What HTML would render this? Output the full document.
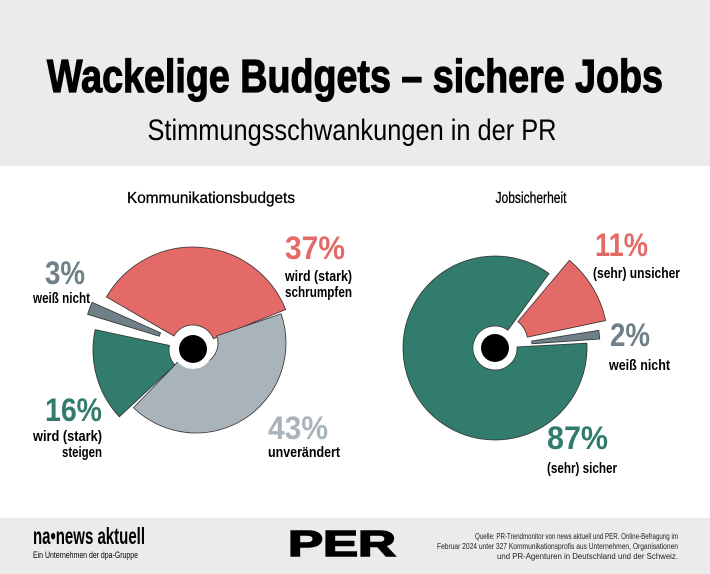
<!DOCTYPE html>
<html><head><meta charset="utf-8"><style>
html,body{margin:0;padding:0;background:#fff}
svg{display:block}
text{font-family:"Liberation Sans Narrow","Liberation Sans",sans-serif}
</style></head><body>
<svg id="s" width="710" height="574" viewBox="0 0 710 574" xmlns="http://www.w3.org/2000/svg">
<rect x="0" y="0" width="710" height="166" fill="#ebebeb"/>
<rect x="0" y="518" width="710" height="56" fill="#ebebeb"/>
<text x="355" y="92" text-anchor="middle" font-size="46" font-weight="bold" stroke="#000" stroke-width="1.2" textLength="616" lengthAdjust="spacingAndGlyphs" fill="#000">Wackelige Budgets – sichere Jobs</text>
<text x="352" y="140" text-anchor="middle" font-size="30" textLength="409" lengthAdjust="spacingAndGlyphs" fill="#000">Stimmungsschwankungen in der PR</text>
<text x="211" y="203" text-anchor="middle" font-size="16" stroke="#000" stroke-width="0.3" textLength="168" lengthAdjust="spacingAndGlyphs">Kommunikationsbudgets</text>
<text x="531" y="203" text-anchor="middle" font-size="16" stroke="#000" stroke-width="0.3" textLength="71" lengthAdjust="spacingAndGlyphs">Jobsicherheit</text>
<g id="pies" stroke="#333" stroke-width="0.8"></g>
<circle cx="193" cy="349" r="20" fill="#fff"/>
<circle cx="193" cy="349" r="14" fill="#000"/>
<circle cx="495" cy="348" r="20" fill="#fff"/>
<circle cx="495" cy="348" r="14" fill="#000"/>
<g font-weight="bold">
<text x="285" y="259" font-size="32" fill="#e36a67" textLength="60" lengthAdjust="spacingAndGlyphs">37%</text>
<text x="285" y="281" font-size="15" textLength="67" lengthAdjust="spacingAndGlyphs">wird (stark)</text>
<text x="285" y="297" font-size="15" textLength="67" lengthAdjust="spacingAndGlyphs">schrumpfen</text>
<text x="45" y="284" font-size="32" fill="#6f8088" textLength="40" lengthAdjust="spacingAndGlyphs">3%</text>
<text x="33" y="303" font-size="15" textLength="57" lengthAdjust="spacingAndGlyphs">weiß nicht</text>
<text x="45" y="421" font-size="32" fill="#317c6c" textLength="57" lengthAdjust="spacingAndGlyphs">16%</text>
<text x="33" y="441" font-size="15" textLength="69" lengthAdjust="spacingAndGlyphs">wird (stark)</text>
<text x="62" y="457" font-size="15" textLength="40" lengthAdjust="spacingAndGlyphs">steigen</text>
<text x="268" y="439" font-size="32" fill="#a8b4b9" textLength="60" lengthAdjust="spacingAndGlyphs">43%</text>
<text x="268" y="457" font-size="15" textLength="72" lengthAdjust="spacingAndGlyphs">unverändert</text>
<text x="595" y="256" font-size="32" fill="#e36a67" textLength="53" lengthAdjust="spacingAndGlyphs">11%</text>
<text x="593" y="278" font-size="15" textLength="87" lengthAdjust="spacingAndGlyphs">(sehr) unsicher</text>
<text x="610" y="346" font-size="32" fill="#6f8088" textLength="40" lengthAdjust="spacingAndGlyphs">2%</text>
<text x="609" y="370" font-size="15" textLength="61" lengthAdjust="spacingAndGlyphs">weiß nicht</text>
<text x="547" y="449" font-size="32" fill="#317c6c" textLength="61" lengthAdjust="spacingAndGlyphs">87%</text>
<text x="547" y="473" font-size="15" textLength="70" lengthAdjust="spacingAndGlyphs">(sehr) sicher</text>
</g>
<text x="33" y="544" font-size="23" font-weight="bold" textLength="112" lengthAdjust="spacingAndGlyphs">na•news aktuell</text>
<text x="33" y="558" font-size="9" textLength="105" lengthAdjust="spacingAndGlyphs">Ein Unternehmen der dpa-Gruppe</text>
<text x="342" y="556" text-anchor="middle" font-size="36" font-weight="bold" stroke="#000" stroke-width="1.5" textLength="108" lengthAdjust="spacingAndGlyphs" font-family="Liberation Sans">PER</text>
<g font-size="8" fill="#222">
<text x="475" y="539" textLength="203" lengthAdjust="spacingAndGlyphs">Quelle: PR-Trendmonitor von news aktuell und PER. Online-Befragung im</text>
<text x="437" y="549" textLength="241" lengthAdjust="spacingAndGlyphs">Februar 2024 unter 327 Kommunikationsprofis aus Unternehmen, Organisationen</text>
<text x="497" y="559" textLength="181" lengthAdjust="spacingAndGlyphs">und PR-Agenturen in Deutschland und der Schweiz.</text>
</g>
</svg>
<script>
function pt(cx,cy,r,a){a=(a-90)*Math.PI/180;return [cx+r*Math.cos(a),cy+r*Math.sin(a)];}
function slice(cx,cy,ri,ro,a0,a1,fill){
 var p1=pt(cx,cy,ro,a0),p2=pt(cx,cy,ro,a1),p3=pt(cx,cy,ri,a1),p4=pt(cx,cy,ri,a0);
 var lg=(a1-a0)>180?1:0;
 var d="M"+p4+" L"+p1+" A"+ro+" "+ro+" 0 "+lg+" 1 "+p2+" L"+p3+" A"+ri+" "+ri+" 0 "+lg+" 0 "+p4+"Z";
 var e=document.createElementNS("http://www.w3.org/2000/svg","path");
 e.setAttribute("d",d);e.setAttribute("fill",fill);
 document.getElementById("pies").appendChild(e);
}
slice(193,347,22,100,-60,68,"#e36a67");
slice(196,343,22,90,71,224,"#a8b4b9");
slice(191,350,22,98,227,282,"#317c6c");
slice(188,345,30,105,287,294,"#6f8088");
slice(495,348,22,92,87,396,"#317c6c");
slice(500,343,28,108,40,78,"#e36a67");
slice(500,346,32,100,81,86,"#6f8088");
</script>
</body></html>
